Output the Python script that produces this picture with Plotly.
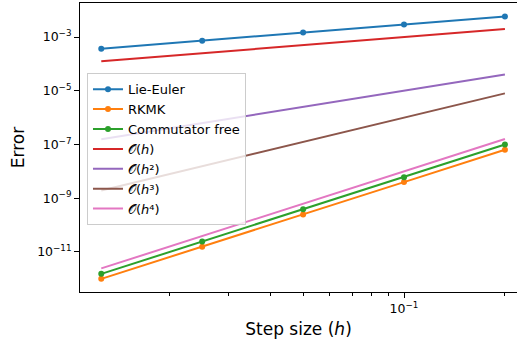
import numpy as np
import plotly.graph_objects as go

# Data
h = [0.0125, 0.025, 0.05, 0.1, 0.2]
lie_euler = [3.66e-4, 7.3e-4, 1.48e-3, 2.94e-3, 5.85e-3]
rkmk = [1.0e-12, 1.55e-11, 2.47e-10, 3.98e-9, 6.35e-8]
comm_free = [1.53e-12, 2.44e-11, 3.93e-10, 6.1e-9, 1.0e-7]
ref_coef = {1: 1e-2, 2: 1e-3, 3: 1e-3, 4: 1e-4}
ref_labels = {1: "𝒪(<i>h</i>)", 2: "𝒪(<i>h</i>²)", 3: "𝒪(<i>h</i>³)", 4: "𝒪(<i>h</i>⁴)"}

y_tickvals = [1e-3, 1e-5, 1e-7, 1e-9, 1e-11]
y_ticktext = ["10<sup>−3</sup>", "10<sup>−5</sup>", "10<sup>−7</sup>", "10<sup>−9</sup>", "10<sup>−11</sup>"]
x_tickvals = [0.1]
x_ticktext = ["10<sup>−1</sup>"]
x_minor = [0.02, 0.03, 0.04, 0.05, 0.06, 0.07, 0.08, 0.09, 0.2]

colors = ["#1f77b4", "#ff7f0e", "#2ca02c", "#d62728", "#9467bd", "#8c564b", "#e377c2"]

fig = go.Figure()
for i, (name, ys, c) in enumerate([("Lie-Euler", lie_euler, colors[0]),
                                   ("RKMK", rkmk, colors[1]),
                                   ("Commutator free", comm_free, colors[2])]):
    fig.add_trace(go.Scatter(x=h, y=ys, mode="lines+markers", name=name, legendgroup=f"g{i}",
                             line=dict(color=c, width=2), marker=dict(color=c, size=6)))

harr = np.array(h)
for k, c in zip([1, 2, 3, 4], colors[3:]):
    fig.add_trace(go.Scatter(x=h, y=list(ref_coef[k] * harr ** k), mode="lines",
                             name=ref_labels[k], legendgroup=f"r{k}",
                             line=dict(color=c, width=2)))

fig.update_layout(
    width=517, height=341,
    margin=dict(l=80, r=0, t=3, b=49),
    paper_bgcolor="white", plot_bgcolor="white",
    font=dict(family="DejaVu Sans", color="black", size=12.5),
    showlegend=True,
    legend=dict(x=0.016, y=0.757, xanchor="left", yanchor="top",
                bgcolor="rgba(255,255,255,0.8)", bordercolor="#cccccc", borderwidth=1,
                tracegroupgap=0, font=dict(size=13)),
    xaxis=dict(type="log", range=[np.log10(0.0108), np.log10(0.2173)],
               showline=True, linecolor="black", linewidth=1, mirror=True,
               showgrid=False, zeroline=False,
               ticks="outside", ticklen=5, tickcolor="black",
               tickvals=x_tickvals, ticktext=x_ticktext,
               minor=dict(tickmode="array", tickvals=x_minor, ticks="outside", ticklen=3,
                          tickcolor="black", showgrid=False),
               title=dict(text="Step size (<i>h</i>)", font=dict(size=17), standoff=8)),
    yaxis=dict(type="log", range=[-12.49, -1.734],
               showline=True, linecolor="black", linewidth=1,
               showgrid=False, zeroline=False,
               ticks="outside", ticklen=5, tickcolor="black",
               tickvals=y_tickvals, ticktext=y_ticktext,
               title=dict(text="Error", font=dict(size=17), standoff=8)),
)

fig.write_html("out.html")
